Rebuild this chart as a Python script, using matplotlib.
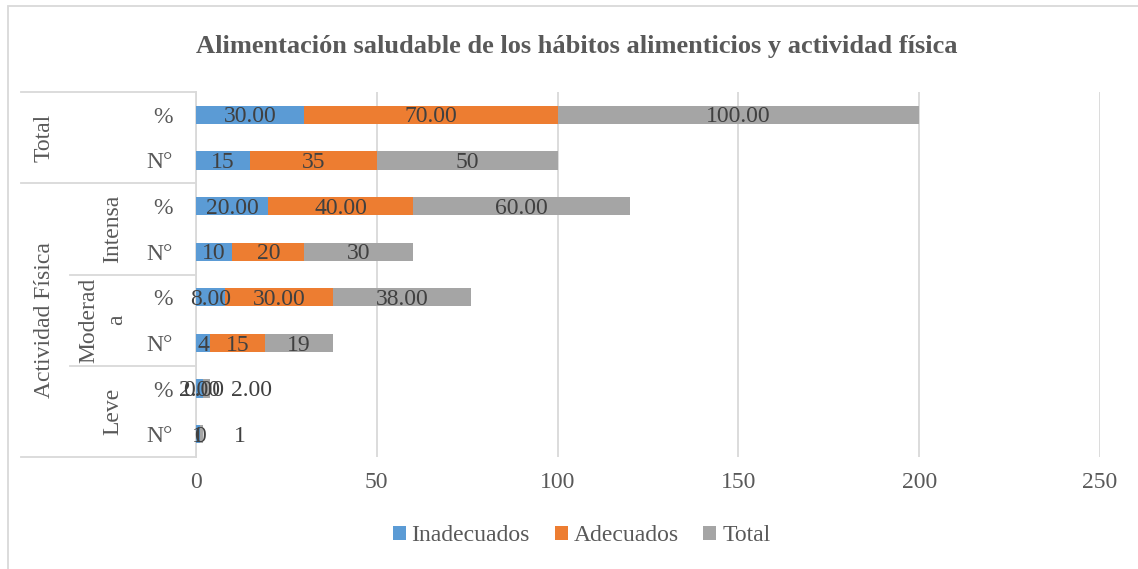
import numpy as np
import matplotlib.pyplot as plt
from matplotlib.patches import Rectangle

plt.rcParams['font.family'] = ['Liberation Serif', 'DejaVu Serif']

# Datos (de arriba hacia abajo)
filas = ['%', 'N°', '%', 'N°', '%', 'N°', '%', 'N°']
inadecuados = [30.00, 15, 20.00, 10, 8.00, 4, 2.00, 1]
adecuados = [70.00, 35, 40.00, 20, 30.00, 15, 0.00, 0]
total = [100.00, 50, 60.00, 30, 38.00, 19, 2.00, 1]
es_porcentaje = [True, False, True, False, True, False, True, False]

grupos_nivel2 = [('Intensa', 2, 3), ('Moderad\na', 4, 5), ('Leve', 6, 7)]
grupos_nivel1 = [('Total', 0, 1), ('Actividad Física', 2, 7)]

col_txt = '#595959'
col_lbl = '#404040'
col_linea = '#D9D9D9'
colores = ['#5B9BD5', '#ED7D31', '#A5A5A5']
series = [('Inadecuados', inadecuados), ('Adecuados', adecuados), ('Total', total)]

fig = plt.figure(figsize=(11.38, 5.69), dpi=100)
ax = fig.add_axes([0.1722, 0.1968, 0.7944, 0.6415])

y = np.arange(len(filas))
izq = np.zeros(len(filas))
for (nombre, vals), c in zip(series, colores):
    vals = np.array(vals, dtype=float)
    ax.barh(y, vals, left=izq, height=0.4, color=c, label=nombre, zorder=3)
    for i, v in enumerate(vals):
        txt = f'{v:.2f}' if es_porcentaje[i] else f'{int(v)}'
        cx = izq[i] + v / 2
        dx = 0
        # etiquetas del total en "Leve" desplazadas a la derecha
        if nombre == 'Total' and i >= 6:
            dx = 32 if es_porcentaje[i] else 28
        ax.annotate(txt, (cx, i), xytext=(dx, -1.5), textcoords='offset points',
                    ha='center', va='center', fontsize=17, color=col_lbl, zorder=4)
    izq += vals

ax.set_xlim(0, 250)
ax.set_ylim(len(filas) - 0.5, -0.5)
ax.set_xticks(np.arange(0, 251, 50))
ax.set_yticks(y)
ax.set_yticklabels(filas)
ax.tick_params(axis='both', length=0, labelsize=17, labelcolor=col_txt)
ax.tick_params(axis='y', pad=17)
ax.tick_params(axis='x', pad=11)
ax.grid(axis='x', color=col_linea, linewidth=1.3, zorder=0)
for s in ['top', 'right', 'bottom']:
    ax.spines[s].set_visible(False)
ax.spines['left'].set_color(col_linea)
ax.spines['left'].set_linewidth(1.3)

# Etiquetas jerárquicas del eje
tr = ax.get_yaxis_transform()
x1, x2 = -0.1936, -0.1394
for yy, xs in [(-0.5, x1), (1.5, x1), (3.5, x2), (5.5, x2), (7.5, x1)]:
    ax.plot([xs, 0], [yy, yy], color=col_linea, lw=1.3, transform=tr, clip_on=False)
for nombre, a, b in grupos_nivel2:
    xpos = -0.103 if '\n' in nombre else -0.092
    ax.text(xpos, (a + b) / 2, nombre, rotation=90, ha='center', va='center',
            fontsize=17, color=col_txt, transform=tr, linespacing=1.4)
for nombre, a, b in grupos_nivel1:
    ax.text(-0.168, (a + b) / 2, nombre, rotation=90, ha='center', va='center',
            fontsize=17, color=col_txt, transform=tr)

fig.text(0.507, 0.918, 'Alimentación saludable de los hábitos alimenticios y actividad física',
         ha='center', va='center', fontsize=19, fontweight='bold', color=col_txt)

fig.legend(loc='center', bbox_to_anchor=(0.511, 0.058), ncol=3, frameon=False,
           fontsize=17, labelcolor=col_txt, handlelength=0.55, handleheight=0.55,
           handletextpad=0.25, columnspacing=1.05)

fig.patches.append(Rectangle((8 / 1138, -0.1), 1.2, 1.1 - 6 / 569, transform=fig.transFigure,
                             fill=False, edgecolor=col_linea, lw=1.3))

fig.savefig('out.png', dpi=100)
